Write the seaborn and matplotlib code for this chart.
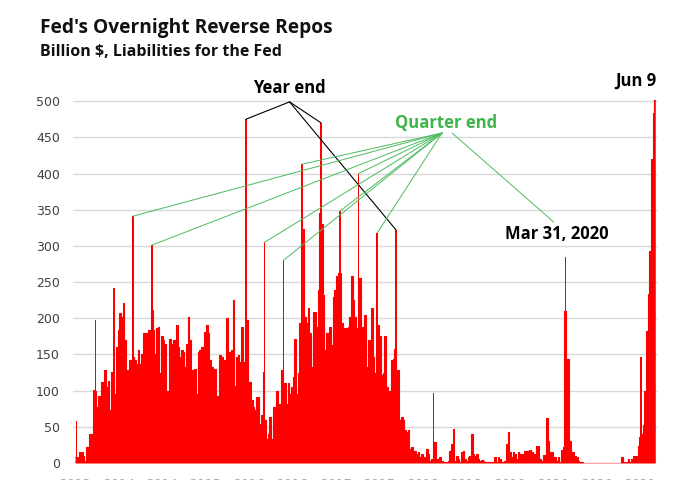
import matplotlib
matplotlib.use('Agg')
import matplotlib.pyplot as plt
import seaborn as sns
import pandas as pd

# Fed overnight reverse repos, billion $ (about every 8 days)
base_values = [
    8, 8, 6, 15, 15, 10, 3, 22, 22, 40,
    40, 101, 100, 77, 93, 93, 112, 112, 128, 105,
    114, 73, 126, 120, 96, 160, 184, 207, 202, 221,
    170, 128, 112, 142, 142, 147, 142, 137, 156, 137,
    151, 179, 179, 179, 184, 184, 211, 184, 151, 186,
    188, 124, 175, 170, 165, 100, 68, 172, 165, 170,
    170, 191, 160, 147, 156, 154, 133, 165, 202, 170,
    128, 112, 130, 96, 154, 156, 160, 133, 181, 191,
    179, 142, 133, 126, 130, 93, 93, 149, 147, 82,
    142, 200, 151, 154, 156, 225, 107, 147, 149, 140,
    188, 91, 140, 198, 100,
    # 2016 - 2017
    112, 87, 77, 73, 91, 91, 54, 66, 126, 60,
    33, 40, 63, 33, 77, 77, 100, 50, 82, 128,
    110, 110, 82, 110, 96, 105, 119, 172, 96, 124,
    193, 193, 323, 202, 193, 214, 179, 133, 209, 209,
    188, 239, 345, 330, 232, 156, 179, 156, 188, 163,
    230, 239, 258, 262, 262, 193, 137, 186, 186, 188,
    202, 258, 225, 202, 186, 256, 256, 188, 156, 205,
    133, 170, 170, 214, 147, 124, 150, 191, 175, 121,
    124, 175, 105, 50, 100, 142, 144, 158, 128, 128,
    59, 63, 59, 45, 43, 45, 19, 22, 17, 17,
    12, 15, 8, 12, 6,
    # 2018 - 2021
    8, 19, 12, 3, 5, 29, 29, 6, 3, 8,
    3, 2, 2, 2, 3, 17, 26, 47, 3, 9,
    6, 2, 15, 16, 6, 3, 8, 10, 40, 12,
    10, 12, 6, 3, 4, 3, 2, 2, 2, 2,
    2, 2, 8, 2, 8, 6, 2, 2, 3, 26,
    43, 15, 8, 15, 12, 6, 15, 13, 12, 6,
    17, 17, 6, 18, 15, 6, 12, 24, 24, 6,
    3, 11, 11, 62, 30, 15, 15, 6, 8, 3,
    8, 2, 18, 22, 210, 144, 144, 31, 15, 15,
    9, 8, 3, 2, 2, 0.5, 0.5, 0.5, 0.5, 0.5,
    0.5, 0.5, 0.5, 0.5, 0.5, 0.5, 0.5, 0.5, 0.5, 0.5,
    0.5, 0.5, 0.5, 0.5, 0.5, 0.5, 0.5, 0.5, 8, 2,
    2, 2, 6, 2, 5, 9, 9, 9, 24, 36,
    40, 52, 100, 183, 233, 293, 420, 484, 502,
]

# single-day spikes at quarter ends
spike_dates = ['2013-09-30', '2013-12-31', '2014-03-31', '2014-06-30', '2014-09-30',
               '2015-12-31', '2016-03-31', '2016-06-30', '2016-09-30', '2016-12-30',
               '2017-03-31', '2017-06-30', '2017-09-29', '2017-12-29', '2018-06-29',
               '2020-03-31', '2021-03-31']
spike_values = [58, 198, 242, 341, 301,
                475, 305, 280, 413, 470,
                348, 400, 318, 322, 97,
                285, 146]

year_end_dates = ['2015-12-31', '2016-12-30', '2017-12-29']
quarter_end_dates = ['2014-06-30', '2014-09-30', '2016-03-31', '2016-06-30',
                     '2016-09-30', '2017-03-31', '2017-06-30', '2017-09-29']

tick_dates = ['2013-09-23', '2014-04-22', '2014-11-19', '2015-06-18', '2016-01-15',
              '2016-08-13', '2017-03-12', '2017-10-09', '2018-05-08', '2018-12-05',
              '2019-07-04', '2020-01-31', '2020-08-29', '2021-03-28']
tick_labels = ['2013', '2014', '2014', '2015', '2016', '2016', '2017',
               '2017', '2018', '2018', '2019', '2020', '2020', '2021']

dates = pd.date_range('2013-09-23', '2021-06-09', periods=len(base_values))
df = pd.DataFrame({'date': dates, 'value': base_values})
spikes = pd.DataFrame({'date': pd.to_datetime(spike_dates), 'value': spike_values})
spike_lookup = dict(zip(spike_dates, spike_values))

sns.set_theme(style='white')
plt.rcParams['font.family'] = ['DejaVu Sans']

fig = plt.figure(figsize=(6.95, 4.8), dpi=100)
ax = fig.add_axes([0.105, 0.0354, 0.842, 0.784])

ax.fill_between(df['date'], df['value'], step='mid', color='#FF0000', lw=0, zorder=2)
sns.lineplot(data=df, x='date', y='value', drawstyle='steps-mid', color='#FF0000',
             lw=0.8, ax=ax, zorder=2)
ax.bar(spikes['date'], spikes['value'], width=8, color='#FF0000', lw=0, zorder=2)

ax.set_xlim(pd.Timestamp('2013-09-13'), pd.Timestamp('2021-06-23'))
ax.set_ylim(0, 520)
ax.set_yticks(range(0, 501, 50))
ax.yaxis.grid(True, color='#d9d9d9', lw=1)
ax.set_axisbelow(True)
for s in ax.spines.values():
    s.set_visible(False)
ax.set_xlabel('')
ax.set_ylabel('')
ax.tick_params(axis='y', length=0, pad=9.5, labelsize=9, labelcolor='#404040')
# the year labels sit mostly below the bottom edge, as in the original
ax.set_xticks(pd.to_datetime(tick_dates))
ax.set_xticklabels(tick_labels)
ax.tick_params(axis='x', length=0, pad=11, labelsize=9, labelcolor='#a8a8a8')

bold = dict(family=['Open Sans', 'DejaVu Sans'], fontweight='bold')
green = '#4CBB5E'

# year end callouts
hub = (pd.Timestamp('2016-07-30'), 499)
for d in year_end_dates:
    ax.annotate('', xy=(pd.Timestamp(d), spike_lookup[d]), xytext=hub,
                arrowprops=dict(arrowstyle='-', color='black', lw=0.8,
                                shrinkA=0, shrinkB=0))
ax.text(pd.Timestamp('2016-07-30'), 518, 'Year end', ha='center', va='center',
        fontsize=12, color='black', **bold)

# quarter end callouts
hub = (pd.Timestamp('2018-08-09'), 456)
for d in quarter_end_dates:
    ax.annotate('', xy=(pd.Timestamp(d), spike_lookup[d]), xytext=hub,
                arrowprops=dict(arrowstyle='-', color=green, lw=0.7,
                                shrinkA=0, shrinkB=0))
ax.annotate('', xy=(pd.Timestamp('2020-02-02'), 333),
            xytext=(pd.Timestamp('2018-09-27'), 456),
            arrowprops=dict(arrowstyle='-', color=green, lw=0.7, shrinkA=0, shrinkB=0))
ax.text(pd.Timestamp('2018-08-28'), 470, 'Quarter end', ha='center', va='center',
        fontsize=12, color='#3DB54A', **bold)

ax.text(pd.Timestamp('2020-02-17'), 316, 'Mar 31, 2020', ha='center', va='center',
        fontsize=12, color='black', **bold)
ax.text(pd.Timestamp('2021-03-05'), 528, 'Jun 9', ha='center', va='center',
        fontsize=12, color='black', **bold)

fig.text(0.0576, 0.931, "Fed's Overnight Reverse Repos", ha='left', va='baseline',
         fontsize=13.8, color='#111111', **bold)
fig.text(0.0576, 0.883, 'Billion $, Liabilities for the Fed', ha='left', va='baseline',
         fontsize=11.5, color='#111111', **bold)

plt.savefig('out.png', dpi=100)
plt.close()
